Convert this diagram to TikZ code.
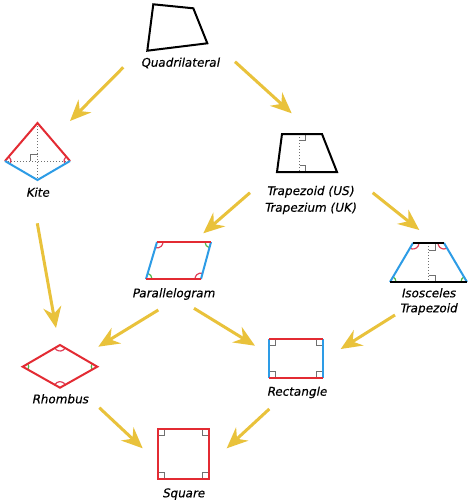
\documentclass[tikz,border=0pt]{standalone}
\usepackage{fontspec}
\setmainfont{DejaVu Sans}
\newfontfamily\lblfont[FakeBold=0.35,FakeSlant=0.2]{DejaVu Sans}
\usetikzlibrary{arrows.meta,angles}
\definecolor{arr}{HTML}{E9C23B}
\definecolor{sred}{HTML}{E32B33}
\definecolor{sblue}{HTML}{2D9CE6}
\definecolor{sgreen}{HTML}{4DB848}
\definecolor{spink}{HTML}{E0405A}
\definecolor{mk}{HTML}{707070}
\begin{document}
\begin{tikzpicture}[x=1pt,y=-1pt,
  flow/.style={draw=arr, line width=3pt, -{Stealth[length=21pt,width=18pt,inset=7pt]}},
  side/.style={draw=#1, line width=2pt, line join=miter},
  side/.default=black,
  guide/.style={draw=mk, line width=1pt, dotted},
  rmark/.style={draw=mk, line width=1pt},
  ang/.style={draw=#1, line width=1.2pt, angle radius=6pt},
  lbl/.style={font=\lblfont\fontsize{12}{14}\selectfont, anchor=base, inner sep=0pt}]
\fill[white] (0,0) rectangle (474,504);
\useasboundingbox (0,0) rectangle (474,504);

% ---------- Quadrilateral ----------
\coordinate (qA) at (153.3,4.3);
\coordinate (qB) at (193.3,8.3);
\coordinate (qC) at (207.3,43.3);
\coordinate (qD) at (147.3,50.7);
\draw[side] (qA) -- (qB) -- (qC) -- (qD) -- cycle;
\node[lbl] (lq) at (180,66.7) {Quadrilateral};

% ---------- Kite ----------
\coordinate (kT) at (37.5,123);
\coordinate (kL) at (5,161);
\coordinate (kB) at (37.5,180);
\coordinate (kR) at (70,161);
\draw[guide] (kT) -- (kB);
\draw[guide] (kL) -- (kR);
\draw[rmark] (30.5,161) -- (30.5,154.5) -- (37.5,154.5);
\pic[ang=spink] {angle = kB--kL--kT};
\pic[ang=spink] {angle = kT--kR--kB};
\draw[side=sred] (kL) -- (kT) -- (kR);
\draw[side=sblue] (kL) -- (kB) -- (kR);
\node[lbl] (lk) at (37.5,196.7) {Kite};

% ---------- Trapezoid ----------
\coordinate (tTL) at (282,134);
\coordinate (tTR) at (322,134);
\coordinate (tBR) at (337,172);
\coordinate (tBL) at (277,172);
\draw[guide] (299.5,134) -- (299.5,172);
\draw[rmark] (299.5,140.5) -- (305.5,140.5) -- (305.5,134);
\draw[rmark] (299.5,165.5) -- (305.5,165.5) -- (305.5,172);
\draw[side] (tTL) -- (tTR) -- (tBR) -- (tBL) -- cycle;
\node[lbl] (lt1) at (310,195) {Trapezoid (US)};
\node[lbl] (lt2) at (310,211.7) {Trapezium (UK)};

% ---------- Parallelogram ----------
\coordinate (pTL) at (157,242);
\coordinate (pTR) at (211,242);
\coordinate (pBR) at (201,279);
\coordinate (pBL) at (146,279);
\pic[ang=spink] {angle = pBL--pTL--pTR};
\pic[ang=sgreen] {angle = pTL--pTR--pBR};
\pic[ang=sgreen] {angle = pBR--pBL--pTL};
\pic[ang=spink] {angle = pTR--pBR--pBL};
\draw[side=sblue] (pTL) -- (pBL);
\draw[side=sblue] (pTR) -- (pBR);
\draw[side=sred] (pTL) -- (pTR);
\draw[side=sred] (pBL) -- (pBR);
\node[lbl] (lp) at (173.3,297.3) {Parallelogram};

% ---------- Isosceles trapezoid ----------
\coordinate (iTL) at (413,243);
\coordinate (iTR) at (444,243);
\coordinate (iBR) at (467,282);
\coordinate (iBL) at (390,282);
\draw[guide] (428.5,243) -- (428.5,282);
\draw[rmark] (428.5,250.5) -- (435.5,250.5) -- (435.5,243);
\draw[rmark] (428.5,275.5) -- (435.5,275.5) -- (435.5,282);
\pic[ang=spink] {angle = iBL--iTL--iTR};
\pic[ang=spink] {angle = iTL--iTR--iBR};
\pic[ang=sgreen] {angle = iBR--iBL--iTL};
\pic[ang=sgreen] {angle = iTR--iBR--iBL};
\draw[side=sblue] (iTL) -- (iBL);
\draw[side=sblue] (iTR) -- (iBR);
\draw[side] (iTL) -- (iTR);
\draw[side] (iBL) -- (iBR);
\node[lbl] (li1) at (428.3,297.3) {Isosceles};
\node[lbl] (li2) at (428.3,312.3) {Trapezoid};

% ---------- Rhombus ----------
\coordinate (rT) at (60,345);
\coordinate (rL) at (22.7,366.7);
\coordinate (rB) at (60,387.7);
\coordinate (rR) at (97.3,366.7);
\pic[ang=spink] {angle = rL--rT--rR};
\pic[ang=sgreen] {angle = rB--rL--rT};
\pic[ang=spink] {angle = rR--rB--rL};
\pic[ang=sgreen] {angle = rT--rR--rB};
\draw[side=sred] (rT) -- (rL) -- (rB) -- (rR) -- cycle;
\node[lbl] (lr) at (60,403.3) {Rhombus};

% ---------- Rectangle ----------
\coordinate (eTL) at (269,339);
\coordinate (eTR) at (323,339);
\coordinate (eBR) at (323,378);
\coordinate (eBL) at (269,378);
\draw[rmark] (269,345.5) -- (275.5,345.5) -- (275.5,339);
\draw[rmark] (323,345.5) -- (316.5,345.5) -- (316.5,339);
\draw[rmark] (269,371.5) -- (275.5,371.5) -- (275.5,378);
\draw[rmark] (323,371.5) -- (316.5,371.5) -- (316.5,378);
\draw[side=sblue] (eTL) -- (eBL);
\draw[side=sblue] (eTR) -- (eBR);
\draw[side=sred] (eTL) -- (eTR);
\draw[side=sred] (eBL) -- (eBR);
\node[lbl] (le) at (296.7,395.7) {Rectangle};

% ---------- Square ----------
\coordinate (sTL) at (158,429);
\coordinate (sTR) at (209,429);
\coordinate (sBR) at (209,479);
\coordinate (sBL) at (158,479);
\draw[rmark] (158,435.5) -- (164.5,435.5) -- (164.5,429);
\draw[rmark] (209,435.5) -- (202.5,435.5) -- (202.5,429);
\draw[rmark] (158,472.5) -- (164.5,472.5) -- (164.5,479);
\draw[rmark] (209,472.5) -- (202.5,472.5) -- (202.5,479);
\draw[side=sred] (sTL) -- (sTR) -- (sBR) -- (sBL) -- cycle;
\node[lbl] (ls) at (183.3,497.3) {Square};

% ---------- Arrows ----------
\coordinate (a1s) at (123.3,67.3);  \coordinate (a1e) at (70,121);
\coordinate (a2s) at (235,61.7);    \coordinate (a2e) at (291.7,113.3);
\coordinate (a3s) at (37.3,223.3);  \coordinate (a3e) at (56,328);
\coordinate (a4s) at (250,192.7);   \coordinate (a4e) at (203.3,233.3);
\coordinate (a5s) at (372.7,192.7); \coordinate (a5e) at (419.3,230);
\coordinate (a6s) at (158.3,310);   \coordinate (a6e) at (98.3,346.7);
\coordinate (a7s) at (194,308.3);   \coordinate (a7e) at (255,345.7);
\coordinate (a8s) at (395,315);     \coordinate (a8e) at (340.7,349);
\coordinate (a9s) at (99.3,407.7);  \coordinate (a9e) at (142.7,448.3);
\coordinate (a10s) at (269.3,409);  \coordinate (a10e) at (226.7,448.3);
\draw[flow] (a1s) -- (a1e);
\draw[flow] (a2s) -- (a2e);
\draw[flow] (a3s) -- (a3e);
\draw[flow] (a4s) -- (a4e);
\draw[flow] (a5s) -- (a5e);
\draw[flow] (a6s) -- (a6e);
\draw[flow] (a7s) -- (a7e);
\draw[flow] (a8s) -- (a8e);
\draw[flow] (a9s) -- (a9e);
\draw[flow] (a10s) -- (a10e);
\end{tikzpicture}
\end{document}
